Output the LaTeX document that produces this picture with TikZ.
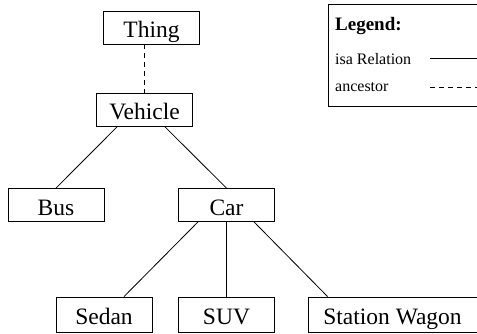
\documentclass[tikz,border=0pt]{standalone}
\usepackage{fontspec}
\setmainfont{Liberation Serif}

\tikzset{
  concept/.style={draw, line width=0.8pt, minimum width=96pt, minimum height=33pt,
    inner sep=0pt, text height=22pt, text depth=2pt, font=\fontsize{23.5}{26}\selectfont},
  isa/.style={line width=0.8pt},
  ancestor/.style={line width=0.8pt, dash pattern=on 5pt off 4pt},
  legendtext/.style={anchor=base west, inner sep=0pt, font=\fontsize{16}{18}\selectfont}
}

\begin{document}
\begin{tikzpicture}[x=1pt,y=-1pt]

	\useasboundingbox (0,0) rectangle (477,334);
	\clip (0,0) rectangle (477,334);

	% the concepts
	\node[concept] (thing) at (151.5,27.5) {Thing};
	\node[concept] (vehicle) at (144.5,110) {Vehicle};
	\node[concept] (bus) at (56,205) {Bus};
	\node[concept] (car) at (226.5,205) {Car};
	\node[concept, minimum height=35pt] (sedan) at (104,314.5) {Sedan};
	\node[concept, minimum height=35pt] (suv) at (226.5,314.5) {SUV};
	\node[concept, minimum height=35pt, minimum width=169pt] (wagon) at (392.5,314.5) {Station Wagon};

	% relations
	\draw[ancestor] ([xshift=-7pt]thing.south) -- (vehicle.north);

	\draw[isa] ([xshift=-27.5pt]vehicle.south) -- (bus.north);
	\draw[isa] ([xshift=20.5pt]vehicle.south) -- (car.north);

	\draw[isa] ([xshift=-28.5pt]car.south) -- ([xshift=20pt]sedan.north);
	\draw[isa] (car.south) -- (suv.north);
	\draw[isa] ([xshift=27.5pt]car.south) -- ([xshift=20pt]wagon.north west);

	%% Legend
	\node[draw, line width=0.8pt, minimum width=160pt, minimum height=102pt, anchor=north west,
	      inner sep=0pt] (legend) at (328,4) {};
	\node[legendtext, font=\fontsize{19}{21}\selectfont\bfseries] (legtitle) at (335,31) {Legend:};
	\node[legendtext] (legisa) at (335,65) {isa Relation};
	\node[legendtext] (leganc) at (335,92) {ancestor};

	\coordinate (isaA) at (430,58);
	\coordinate (isaB) at (480,58);
	\coordinate (ancA) at (430,87);
	\coordinate (ancB) at (480,87);
	\draw[isa] (isaA) -- (isaB);
	\draw[ancestor] (ancA) -- (ancB);

\end{tikzpicture}
\end{document}
